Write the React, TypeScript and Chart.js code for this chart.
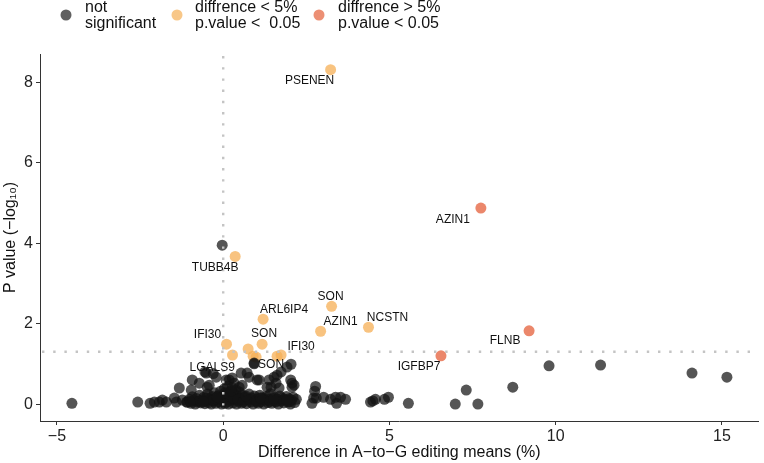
import React, { useEffect, useRef } from 'react';
import { Chart, registerables } from 'chart.js';

Chart.register(...registerables);

const FONT = '"Liberation Sans", Arial, Helvetica, sans-serif';

// ---- axis ticks ----
const xTicks = [-5, 0, 5, 10, 15];
const yTicks = [0, 2, 4, 6, 8];
const pThreshold = 1.3; // -log10(0.05)
const xReference = 0;

// ---- legend ----
const legendNames = [
  ['not', 'significant'],
  ['diffrence < 5%', 'p.value <  0.05'],
  ['diffrence > 5%', 'p.value < 0.05'],
];

// ---- significant, difference < 5% ----
const smallDiffX = [3.23, 0.36, 1.2, 3.26, 2.93, 4.37, 0.1, 1.17, 1.62, 0.28, 0.75, 0.9, 0.99, 1.74];
const smallDiffY = [8.31, 3.67, 2.11, 2.43, 1.81, 1.91, 1.49, 1.49, 1.19, 1.22, 1.37, 1.19, 1.17, 1.22];
const smallDiffNames = ['PSENEN', 'TUBB4B', 'ARL6IP4', 'SON', 'AZIN1', 'NCSTN', 'IFI30', 'SON', 'IFI30', '', '', '', '', ''];
const smallDiffLabelShift = [[-21, 11], [-20, 11], [21, -10], [-1, -10], [20, -10], [19, -10], [-19, -9], [2, -10], [24, -10]];

// ---- significant, difference > 5% ----
const largeDiffX = [7.75, 9.2, 6.55];
const largeDiffY = [4.87, 1.82, 1.2];
const largeDiffNames = ['AZIN1', 'FLNB', 'IGFBP7'];
const largeDiffLabelShift = [[-28, 12], [-24, 10], [-22, 11]];

// ---- not significant (labelled) ----
const nsLabelledX = [0.93, -0.3];
const nsLabelledY = [1.02, 0.76];
const nsLabelledNames = ['SON', 'LGALS9'];
const nsLabelShift = [[17, 2], [-1, -6]];

// ---- not significant (rest) ----
const nsX = [
  -4.55, -2.57, -2.2, -2.07, -1.92, -1.83, -1.71, -1.47, -1.41, -1.32, -1.23, -1.1, -0.96, -0.93,
  -0.72, -0.48, -0.51, -0.55, -0.42, -0.21, -0.03,
  0.09, 0.18, 0.27, 0.33, 0.48, 0.57, 0.54, 0.72, 0.78, 0.93, 1.02, 1.08, 1.38, 1.32, 1.44, 1.53, 1.59,
  1.62, 1.68, 1.74, 1.92, 2.04, 2.03, 2.07, 2.07, 2.13,
  2.67, 2.72, 2.78, 2.8, 2.75, 3.02, 3.23, 3.38, 3.41, 3.53, 3.68, 4.43, 4.58, 4.85, 4.97, 4.5, 5.57,
  6.98, 7.31, 7.66, 8.71, 9.8, 11.35, 14.1, 15.15,
  -1.08, -1.02, -0.97, -0.93, -0.88, -0.84, -0.8, -0.76, -0.71, -0.67, -0.63, -0.58, -0.55, -0.51,
  -0.47, -0.44, -0.4, -0.36, -0.33, -0.29, -0.26, -0.22, -0.19, -0.15, -0.12, -0.08, -0.05, -0.02,
  0.0, 0.03, 0.05, 0.08, 0.11, 0.13, 0.16, 0.19, 0.21, 0.24, 0.27, 0.29, 0.32, 0.35, 0.38, 0.4,
  0.43, 0.46, 0.49, 0.52, 0.55, 0.58, 0.62, 0.66, 0.7, 0.74, 0.78, 0.82, 0.86, 0.9, 0.94, 0.98,
  1.02, 1.06, 1.1, 1.14, 1.18, 1.22, 1.26, 1.3, 1.34, 1.38, 1.42, 1.46, 1.5, 1.54, 1.58, 1.62,
  1.66, 1.7, 1.74, 1.78, 1.82, 1.86, 1.9, 1.94, 1.98, 2.02, 2.06, 2.1, 2.15, 2.2,
  -0.9, -0.7, -0.5, -0.3, -0.1, 0.1, 0.2, 0.3, 0.45, 0.6, 0.8, 1.0, 1.2, 1.4, 1.6, 1.8, 2.0,
  0.05, 0.25, -0.18, 0.68, 1.12, 1.52, 1.92, -1.0, -0.6,
];
const nsY = [
  0.02, 0.05, 0.02, 0.05, 0.05, 0.1, 0.05, 0.15, 0.05, 0.4, 0.1, 0.05, 0.35, 0.6,
  0.52, 0.42, 0.77, 0.8, 0.47, 0.67, 3.95,
  0.6, 0.6, 0.65, 0.52, 0.42, 0.47, 0.77, 0.77, 0.67, 1.0, 0.6, 0.6, 0.6, 0.42, 0.42, 0.67, 0.52,
  0.72, 0.4, 0.8, 0.92, 0.99, 0.6, 0.42, 0.52, 0.47,
  0.02, 0.15, 0.44, 0.15, 0.32, 0.17, 0.12, 0.17, 0.02, 0.17, 0.12, 0.05, 0.12, 0.12, 0.17, 0.08, 0.02,
  0.0, 0.35, 0.0, 0.42, 0.95, 0.97, 0.77, 0.67,
  0.05, 0.12, 0.02, 0.18, 0.07, 0.0, 0.14, 0.05, 0.22, 0.03, 0.1, 0.17, 0.01, 0.08,
  0.25, 0.04, 0.13, 0.0, 0.19, 0.07, 0.28, 0.02, 0.11, 0.21, 0.05, 0.32, 0.0, 0.15,
  0.08, 0.38, 0.02, 0.24, 0.12, 0.45, 0.0, 0.3, 0.09, 0.18, 0.4, 0.03, 0.26, 0.11, 0.35, 0.0,
  0.2, 0.07, 0.3, 0.14, 0.02, 0.22, 0.09, 0.17, 0.01, 0.12, 0.25, 0.05, 0.15, 0.0, 0.2, 0.08,
  0.13, 0.02, 0.22, 0.06, 0.16, 0.0, 0.1, 0.19, 0.04, 0.12, 0.26, 0.02, 0.09, 0.17, 0.05, 0.13,
  0.0, 0.2, 0.08, 0.15, 0.03, 0.11, 0.19, 0.05, 0.13, 0.0, 0.1, 0.17, 0.04, 0.12,
  0.1, 0.08, 0.15, 0.1, 0.15, 0.05, 0.2, 0.15, 0.12, 0.05, 0.1, 0.05, 0.12, 0.07, 0.08, 0.1, 0.06,
  0.28, 0.33, 0.18, 0.2, 0.15, 0.14, 0.1, 0.06, 0.06,
];

// ---- styles ----
const NS_COLOR = 'rgba(20,20,20,0.72)';
const SMALL_COLOR = 'rgba(245,175,85,0.75)';
const LARGE_COLOR = 'rgba(230,105,70,0.8)';
const LEGEND_COLORS = ['rgba(20,20,20,0.68)', 'rgba(245,175,85,0.7)', 'rgba(230,105,70,0.75)'];

const pts = (xs: number[], ys: number[]) => xs.map((x, i) => ({ x, y: ys[i] }));

const refLinesPlugin = {
  id: 'refLines',
  afterDatasetsDraw(chart: any) {
    const { ctx, chartArea, scales } = chart;
    const yPix = scales.y.getPixelForValue(pThreshold);
    const xPix = scales.x.getPixelForValue(xReference);
    ctx.save();
    ctx.strokeStyle = '#c4c4c4';
    ctx.lineWidth = 2.4;
    ctx.setLineDash([2.4, 8.8]);
    ctx.beginPath();
    ctx.moveTo(chartArea.left + 2, yPix);
    ctx.lineTo(chartArea.right, yPix);
    ctx.stroke();
    ctx.beginPath();
    ctx.moveTo(xPix, chartArea.top + 2);
    ctx.lineTo(xPix, chartArea.bottom);
    ctx.stroke();
    ctx.restore();
  },
};

const labelsPlugin = {
  id: 'pointNames',
  afterDatasetsDraw(chart: any) {
    const { ctx } = chart;
    ctx.save();
    ctx.font = `12px ${FONT}`;
    ctx.fillStyle = '#111';
    ctx.textAlign = 'center';
    ctx.textBaseline = 'middle';
    chart.data.datasets.forEach((ds: any, di: number) => {
      const names: string[] = ds.pointNames || [];
      const shifts: number[][] = ds.nameShift || [];
      const meta = chart.getDatasetMeta(di);
      names.forEach((name, i) => {
        if (!name) return;
        const el = meta.data[i];
        const s = shifts[i] || [0, -10];
        ctx.fillText(name, el.x + s[0], el.y + s[1]);
      });
    });
    ctx.restore();
  },
};

const legendPlugin = {
  id: 'topLegend',
  afterDraw(chart: any) {
    const { ctx } = chart;
    const dotX = [66, 177, 319];
    const textX = [85, 195, 338];
    ctx.save();
    ctx.font = `16px ${FONT}`;
    ctx.textAlign = 'left';
    ctx.textBaseline = 'middle';
    legendNames.forEach((lines, i) => {
      ctx.fillStyle = LEGEND_COLORS[i];
      ctx.beginPath();
      ctx.arc(dotX[i], 15, 5.5, 0, Math.PI * 2);
      ctx.fill();
      ctx.fillStyle = '#111';
      lines.forEach((t, j) => ctx.fillText(t, textX[i], 8 + j * 16));
    });
    ctx.restore();
  },
};

export default function App() {
  const ref = useRef<HTMLCanvasElement | null>(null);
  useEffect(() => {
    if (!ref.current) return;
    const chart = new Chart(ref.current, {
      type: 'scatter',
      data: {
        datasets: [
          {
            data: pts(nsLabelledX.concat(nsX), nsLabelledY.concat(nsY)),
            backgroundColor: NS_COLOR,
            pointRadius: 5.5,
            borderWidth: 0,
            pointNames: nsLabelledNames,
            nameShift: nsLabelShift,
          } as any,
          {
            data: pts(smallDiffX, smallDiffY),
            backgroundColor: SMALL_COLOR,
            pointRadius: 5.5,
            borderWidth: 0,
            pointNames: smallDiffNames,
            nameShift: smallDiffLabelShift,
          } as any,
          {
            data: pts(largeDiffX, largeDiffY),
            backgroundColor: LARGE_COLOR,
            pointRadius: 5.5,
            borderWidth: 0,
            pointNames: largeDiffNames,
            nameShift: largeDiffLabelShift,
          } as any,
        ],
      },
      options: {
        responsive: false,
        animation: false,
        devicePixelRatio: 1,
        layout: { padding: { top: 54, right: 3, left: 0, bottom: 0 } },
        plugins: { legend: { display: false }, tooltip: { enabled: false } },
        events: [],
        scales: {
          x: {
            type: 'linear',
            min: -5.51,
            max: 16.1,
            afterBuildTicks: (s: any) => { s.ticks = xTicks.map((v) => ({ value: v })); },
            afterFit: (s: any) => { s.height = 42; },
            ticks: { font: { family: FONT, size: 16 }, color: '#222', padding: 2, maxRotation: 0,
              callback: (v: any) => (Number(v) < 0 ? '\u2212' + Math.abs(Number(v)) : String(v)) },
            grid: { drawOnChartArea: false, drawTicks: true, tickLength: 4, color: '#333', lineWidth: 1 },
            border: { display: true, color: '#333', width: 1 },
            title: { display: true, text: 'Difference in A\u2212to\u2212G editing means (%)', font: { family: FONT, size: 16 }, color: '#111', padding: { top: 0, bottom: 1 } },
          },
          y: {
            type: 'linear',
            min: -0.42,
            max: 8.7,
            afterBuildTicks: (s: any) => { s.ticks = yTicks.map((v) => ({ value: v })); },
            afterFit: (s: any) => { s.width = 40; },
            ticks: { font: { family: FONT, size: 16 }, color: '#222', padding: 3 },
            grid: { drawOnChartArea: false, drawTicks: true, tickLength: 4, color: '#333', lineWidth: 1 },
            border: { display: true, color: '#333', width: 1 },
            title: { display: true, text: 'P value (\u2212log\u2081\u2080)', font: { family: FONT, size: 16 }, color: '#111', padding: { top: 1, bottom: 0 } },
          },
        },
      } as any,
      plugins: [refLinesPlugin, labelsPlugin, legendPlugin],
    });
    return () => chart.destroy();
  }, []);
  return (
    <div style={{ position: 'absolute', left: 0, top: 0, width: 764, height: 463, background: '#fff' }}>
      <canvas ref={ref} width={764} height={463} style={{ width: 764, height: 463, display: 'block' }} />
    </div>
  );
}
